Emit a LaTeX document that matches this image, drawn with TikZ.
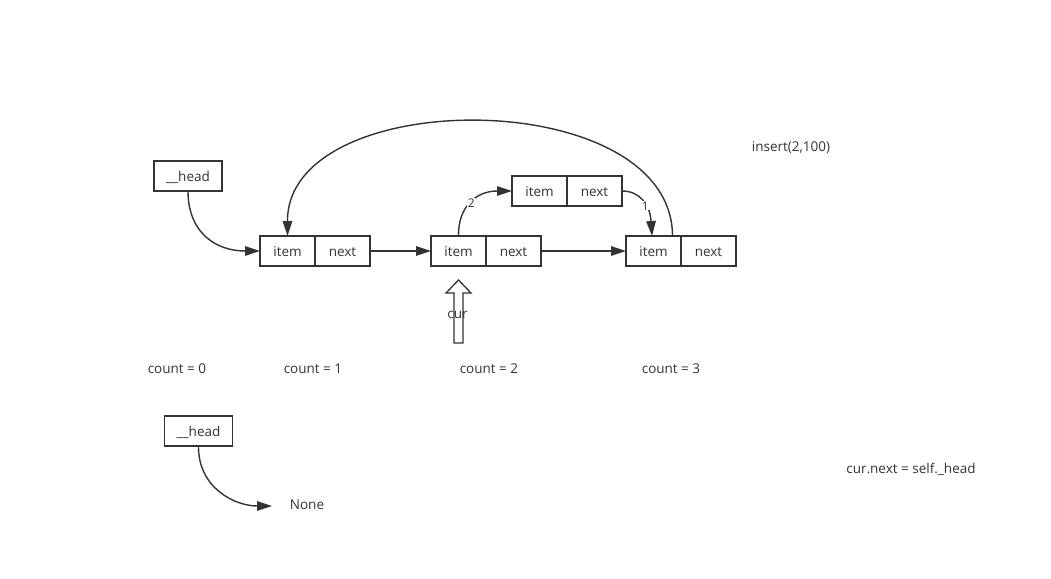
\documentclass[tikz,border=0pt]{standalone}
\usepackage{fontspec}
\setmainfont{Open Sans}
\usepackage{tikz}
\usetikzlibrary{positioning,arrows.meta}
\definecolor{inkcolor}{HTML}{333333}
\tikzset{
  cell/.style={draw=inkcolor, line width=1.5pt, fill=white, minimum height=30pt, minimum width=55pt, inner sep=0pt, outer sep=0pt, font=\fontsize{13.5}{15}\selectfont, text=inkcolor, text height=11pt, text depth=0pt},
  headbox/.style={cell, minimum width=68pt, text height=12pt, text depth=1pt},
  note/.style={font=\fontsize{13.5}{15}\selectfont, text=inkcolor, inner sep=0pt},
  link/.style={-{Triangle[length=15pt,width=9.5pt]}, line width=1.4pt, draw=inkcolor},
  lbl/.style={font=\fontsize{12}{14}\selectfont, text=inkcolor, fill=white, inner sep=0.5pt},
}
\begin{document}
\begin{tikzpicture}[x=1pt,y=-1pt]
\useasboundingbox (0,0) rectangle (1051,578);
% list nodes
\node[headbox] (head) at (188,176) {\_\_head};
\node[cell] (item1) at (287.5,251) {item};
\node[cell, right=0pt of item1] (next1) {next};
\node[cell] (item2) at (458.5,251) {item};
\node[cell, right=0pt of item2] (next2) {next};
\node[cell] (item3) at (653.5,251) {item};
\node[cell, right=0pt of item3] (next3) {next};
\node[cell] (itemn) at (539.5,191) {item};
\node[cell, right=0pt of itemn] (nextn) {next};
% links
\draw[link] (head.south) .. controls (188,232) and (215,251) .. (item1.west);
\draw[link] (next1.east) -- (item2.west);
\draw[link] (next2.east) -- (item3.west);
\draw[link] ([xshift=19pt]item3.north) .. controls (672,84) and (287,84) .. (item1.north);
\draw[link] (item2.north) .. controls (458,208) and (475,191) .. (itemn.west) node[lbl, pos=0.5] {2};
\draw[link] (nextn.east) .. controls (640,191) and (650,205) .. ([xshift=-1.5pt]item3.north) node[lbl, pos=0.58] {1};
% cur pointer
\draw[inkcolor, line width=1.3pt, fill=white, line join=miter] (454,343) -- (463,343) -- (463,293) -- (471,293) -- (458.5,280) -- (446,293) -- (454,293) -- cycle;
\node[note] (cur) at (457.5,315) {cur};
% counters
\node[note] (c0) at (177,369) {count = 0};
\node[note] (c1) at (313,369) {count = 1};
\node[note] (c2) at (489,369) {count = 2};
\node[note] (c3) at (671,369) {count = 3};
\node[note] (ins) at (791,148) {insert(2,100)};
% empty list
\node[headbox] (head2) at (198.5,431) {\_\_head};
\node[note] (none) at (307,505) {None};
\coordinate (nonein) at (272,506);
\draw[link] (head2.south) .. controls (198,488) and (235,506) .. (nonein);
\node[note] (assign) at (911,469) {cur.next = self.\_head};
\end{tikzpicture}
\end{document}
